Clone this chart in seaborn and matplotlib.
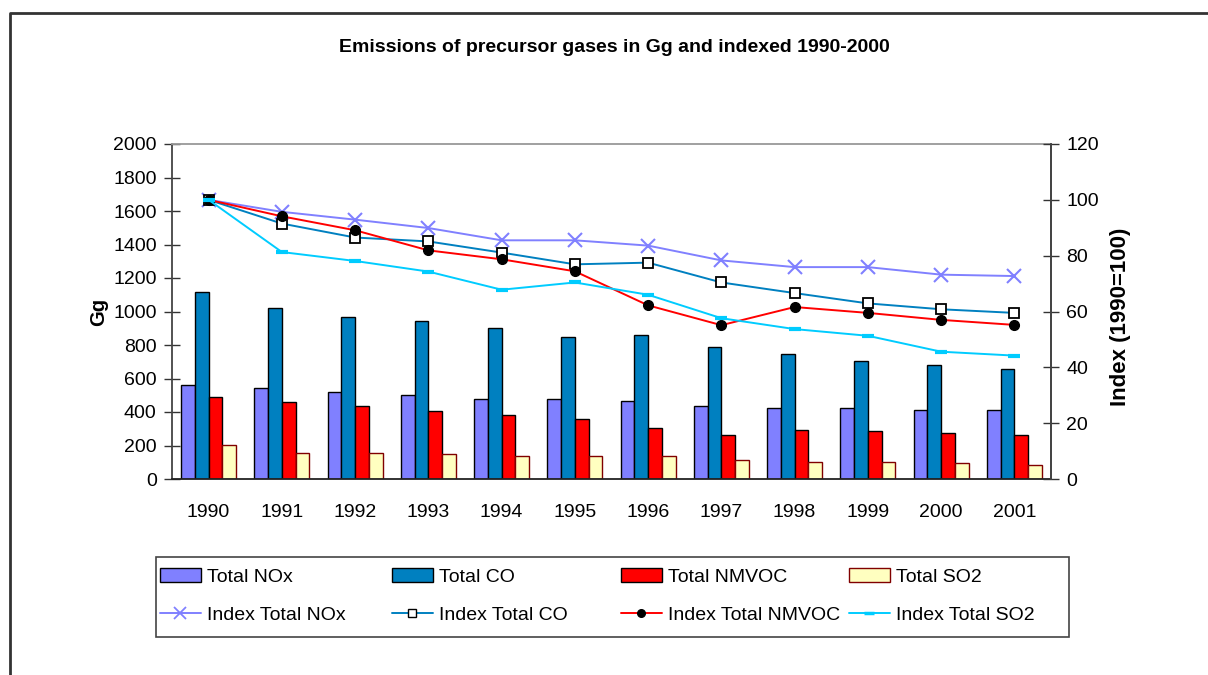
import numpy as np
import pandas as pd
import matplotlib
matplotlib.use("Agg")
import matplotlib.pyplot as plt
from matplotlib.patches import Patch, Rectangle
from matplotlib.lines import Line2D
from matplotlib.ticker import FixedLocator
import seaborn as sns

years = ["1990", "1991", "1992", "1993", "1994", "1995", "1996", "1997", "1998", "1999", "2000", "2001"]

nox = [563, 541, 521, 499, 479, 479, 467, 437, 425, 425, 413, 413]
co = [1116, 1020, 966, 946, 902, 848, 862, 786, 745, 703, 679, 659]
nmvoc = [487, 457, 437, 403, 381, 361, 307, 265, 295, 285, 275, 265]
so2 = [202, 158, 158, 148, 138, 138, 138, 116, 104, 104, 94, 84]

idx_nox = [100, 95.7, 92.9, 89.9, 85.5, 85.5, 83.6, 78.3, 75.9, 75.9, 73.2, 72.7]
idx_co = [100, 91.5, 86.5, 85.1, 81.1, 76.9, 77.5, 70.4, 66.6, 62.9, 60.8, 59.5]
idx_nmvoc = [100, 94.1, 89.1, 81.9, 78.7, 74.4, 62.2, 55.1, 61.6, 59.5, 57.0, 55.2]
idx_so2 = [100, 81.3, 78.1, 74.3, 67.8, 70.4, 66.0, 57.6, 53.7, 51.3, 45.6, 44.2]

bar_names = ["Total NOx", "Total CO", "Total NMVOC", "Total SO2"]
line_names = ["Index Total NOx", "Index Total CO", "Index Total NMVOC", "Index Total SO2"]
title = "Emissions of precursor gases in Gg and indexed 1990-2000"

c_nox, c_co, c_nmvoc, c_so2, c_so2line = "#8080FF", "#0080C0", "#FF0000", "#FFFFC0", "#00CCFF"

sns.set_style("white")
plt.rcParams["font.family"] = ["Liberation Sans", "DejaVu Sans"]
plt.rcParams["text.color"] = "black"
plt.rcParams["axes.labelcolor"] = "black"
plt.rcParams["xtick.color"] = "black"
plt.rcParams["ytick.color"] = "black"

W, H = 1208, 675

df = pd.DataFrame({
    "Year": years * 4,
    "Series": sum([[n] * len(years) for n in bar_names], []),
    "Gg": nox + co + nmvoc + so2,
})

fig = plt.figure(figsize=(W / 100, H / 100), dpi=100)
ax = fig.add_axes([172 / W, 1 - 479 / H, (1051 - 172) / W, (479 - 144) / H])

sns.barplot(data=df, x="Year", y="Gg", hue="Series", hue_order=bar_names,
            palette=[c_nox, c_co, c_nmvoc, c_so2], saturation=1, width=0.75,
            edgecolor="black", linewidth=1.0, ax=ax, legend=False, errorbar=None)
for p in ax.containers[3].patches:
    p.set_edgecolor("#800000")

ax.set_xlim(-0.5, len(years) - 0.5)
ax.set_ylim(0, 2000)
ax.set_yticks(np.arange(0, 2001, 200))
ax.tick_params(axis="y", direction="inout", length=12, width=1, pad=5, labelsize=14, colors="#333333", labelcolor="black")
ax.tick_params(axis="x", which="major", length=0, pad=18, labelsize=14, labelcolor="black")
ax.xaxis.set_minor_locator(FixedLocator(np.arange(0.5, len(years) - 0.5, 1)))
ax.tick_params(axis="x", which="minor", direction="inout", length=12, width=1, colors="#333333")
ax.set_xlabel("")
ax.set_ylabel("Gg", fontsize=14.5, fontweight="bold", color="black")
ax.yaxis.set_label_coords(-0.073, 0.5)
for s in ["left", "bottom", "right", "top"]:
    ax.spines[s].set_visible(True)
ax.spines["left"].set_color("#444444")
ax.spines["bottom"].set_color("#222222")
ax.spines["top"].set_color("#999999")
ax.spines["right"].set_color("#444444")
for s in ax.spines.values():
    s.set_linewidth(1.3)

ax2 = ax.twinx()
pos = np.arange(len(years))
sns.lineplot(x=pos, y=idx_nox, ax=ax2, color=c_nox, lw=1.4, marker="x", markersize=10, mew=1.5, mec=c_nox)
sns.lineplot(x=pos, y=idx_co, ax=ax2, color=c_co, lw=1.4, marker="s", markersize=7.5, mew=1.3, mec="black", mfc="white")
sns.lineplot(x=pos, y=idx_nmvoc, ax=ax2, color=c_nmvoc, lw=1.4, marker="o", markersize=7, mew=1, mec="black", mfc="black")
sns.lineplot(x=pos, y=idx_so2, ax=ax2, color=c_so2line, lw=1.4, marker="_", markersize=9, mew=3, mec=c_so2line)
ax2.set_ylim(0, 120)
ax2.set_yticks(np.arange(0, 121, 20))
ax2.tick_params(axis="y", direction="inout", length=12, width=1, pad=5, labelsize=14, colors="#333333", labelcolor="black")
ax2.set_ylabel("Index (1990=100)", fontsize=16, fontweight="bold", color="black")
ax2.yaxis.set_label_coords(1.067, 0.485)
for s in ["left", "bottom", "top"]:
    ax2.spines[s].set_visible(False)
ax2.spines["right"].set_color("#444444")
ax2.spines["right"].set_linewidth(1.3)
ax.set_xlim(-0.5, len(years) - 0.5)

fig.text(614 / W, 1 - 47 / H, title, ha="center", va="center", fontsize=14, fontweight="bold", color="black")

bar_handles = [Patch(facecolor=c_nox, edgecolor="black"), Patch(facecolor=c_co, edgecolor="black"),
               Patch(facecolor=c_nmvoc, edgecolor="black"), Patch(facecolor=c_so2, edgecolor="#800000")]
line_handles = [Line2D([], [], color=c_nox, lw=1.4, marker="x", markersize=8, mew=1.3),
                Line2D([], [], color=c_co, lw=1.4, marker="s", markersize=5.5, mew=1, mec="black", mfc="white"),
                Line2D([], [], color=c_nmvoc, lw=1.4, marker="o", markersize=5.5, mec="black", mfc="black"),
                Line2D([], [], color=c_so2line, lw=1.4, marker="_", markersize=7, mew=2.5)]

# legend frame
fig.add_artist(Rectangle((156 / W, 1 - 637 / H), (1069 - 156) / W, (637 - 557) / H,
                         transform=fig.transFigure, facecolor="white", edgecolor="#444444", lw=1.2))
col_x = [160, 392, 621, 849]
for i in range(4):
    lg = fig.legend([bar_handles[i], line_handles[i]], [bar_names[i], line_names[i]],
                    loc="center left", bbox_to_anchor=(col_x[i] / W, 1 - 596 / H),
                    fontsize=14, frameon=False, handlelength=2.1, handletextpad=0.3,
                    labelspacing=1.05, borderpad=0, borderaxespad=0, labelcolor="black")

fig.add_artist(Line2D([10 / W, 10 / W, 1.0], [0.0, 1 - 13 / H, 1 - 13 / H],
                      transform=fig.transFigure, color="#333333", lw=2))

fig.savefig("out.png", dpi=100)
